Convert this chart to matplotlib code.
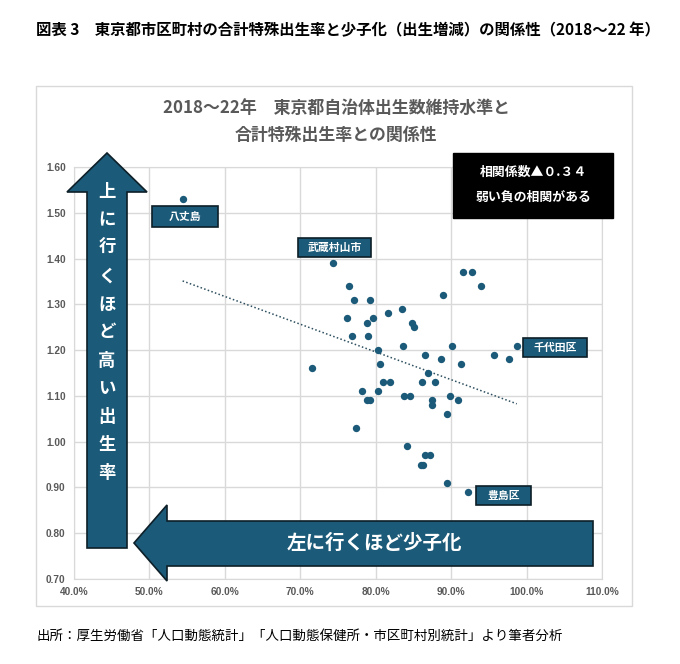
import matplotlib.pyplot as plt
import numpy as np
from matplotlib.patches import Polygon, Rectangle

plt.rcParams['font.family'] = ['Noto Sans CJK JP', 'DejaVu Sans']

# birth-count maintenance level (%) vs total fertility rate
birth_level = [54.4, 74.3, 76.5, 77.1, 79.3, 91.6, 92.7, 94.0, 88.9,
               76.2, 78.9, 79.7, 81.6, 83.5, 84.8, 85.1, 76.9, 79.0,
               80.3, 83.6, 90.1, 98.7, 95.7, 97.7, 86.5, 88.7, 71.5,
               80.6, 91.3, 86.9, 80.9, 81.9, 86.2, 87.9, 78.2, 80.3,
               78.9, 79.3, 83.8, 84.5, 87.5, 87.5, 89.9, 90.9, 89.4,
               77.4, 84.2, 86.5, 87.2, 86.0, 86.3, 89.5, 92.2]
fertility = [1.53, 1.39, 1.34, 1.31, 1.31, 1.37, 1.37, 1.34, 1.32,
             1.27, 1.26, 1.27, 1.28, 1.29, 1.26, 1.25, 1.23, 1.23,
             1.20, 1.21, 1.21, 1.21, 1.19, 1.18, 1.19, 1.18, 1.16,
             1.17, 1.17, 1.15, 1.13, 1.13, 1.13, 1.13, 1.11, 1.11,
             1.09, 1.09, 1.10, 1.10, 1.09, 1.08, 1.10, 1.09, 1.06,
             1.03, 0.99, 0.97, 0.97, 0.95, 0.95, 0.91, 0.89]

labels = ["八丈島", "武蔵村山市", "千代田区", "豊島区"]
x_ticks = [40, 50, 60, 70, 80, 90, 100, 110]
y_ticks = [0.7, 0.8, 0.9, 1.0, 1.1, 1.2, 1.3, 1.4, 1.5, 1.6]

TEAL = "#1b5a78"
W, H = 680, 664


def fx(px):
    return px / W


def fy(py):
    return 1 - py / H


fig = plt.figure(figsize=(W / 100, H / 100), dpi=100)
ax = fig.add_axes([fx(74), fy(579), (602 - 74) / W, (579 - 167) / H])

ax.scatter(birth_level, fertility, s=28, color=TEAL, zorder=3, linewidths=0)

# linear trend
coef = np.polyfit(birth_level, fertility, 1)
xs = np.array([min(birth_level), max(birth_level)])
ax.plot(xs, np.polyval(coef, xs), linestyle=(0, (1, 1.5)), color="#2d4f5f",
        linewidth=1.1, zorder=2)

ax.set_xlim(40, 110)
ax.set_ylim(0.7, 1.6)
ax.set_xticks(x_ticks)
ax.set_xticklabels([f"{v:.1f}%" for v in x_ticks])
ax.set_yticks(y_ticks)
ax.set_yticklabels([f"{v:.2f}" for v in y_ticks])
ax.tick_params(length=0, labelsize=7.3, colors="#595959", pad=6)
for lab in ax.get_xticklabels() + ax.get_yticklabels():
    lab.set_fontweight("bold")
    lab.set_family(["Liberation Sans", "DejaVu Sans"])
ax.grid(True, color="#d9d9d9", linewidth=1)
ax.set_axisbelow(True)
for sp in ax.spines.values():
    sp.set_color("#d9d9d9")

# outer frame
fig.patches.append(Rectangle((fx(36), fy(606)), (632 - 36) / W, (606 - 86) / H,
                             transform=fig.transFigure, fill=False,
                             edgecolor="#d9d9d9", linewidth=1))

fig.text(fx(36), fy(30), "図表 3　東京都市区町村の合計特殊出生率と少子化（出生増減）の関係性（2018～22 年）",
         fontsize=11.1, fontweight="bold", va="center", ha="left")
fig.text(fx(336), fy(108), "2018～22年　東京都自治体出生数維持水準と",
         fontsize=12.2, fontweight="bold", color="#595959", ha="center", va="center")
fig.text(fx(336), fy(135), "合計特殊出生率との関係性",
         fontsize=12.2, fontweight="bold", color="#595959", ha="center", va="center")

# correlation box
fig.patches.append(Rectangle((fx(453), fy(218)), (613 - 453) / W, (218 - 153) / H,
                             transform=fig.transFigure, facecolor="black",
                             edgecolor="black", zorder=5))
fig.text(fx(533), fy(172), "相関係数▲０.３４", color="white", fontsize=9.3,
         fontweight="bold", ha="center", va="center", zorder=6)
fig.text(fx(533), fy(197), "弱い負の相関がある", color="white", fontsize=9.3,
         fontweight="bold", ha="center", va="center", zorder=6)

# label boxes (pixel bounds)
boxes = [(152, 206, 218, 227), (298, 238, 371, 257), (523, 338, 587, 357), (476, 486, 531, 505)]
for (x0, y0, x1, y1), name in zip(boxes, labels):
    fig.patches.append(Rectangle((fx(x0), fy(y1)), (x1 - x0) / W, (y1 - y0) / H,
                                 transform=fig.transFigure, facecolor=TEAL,
                                 edgecolor="#0d1f28", linewidth=1.2, zorder=5))
    fig.text(fx((x0 + x1) / 2), fy((y0 + y1) / 2), name, color="white", fontsize=7.8,
             fontweight="bold", ha="center", va="center", zorder=6)

# up arrow
up = [(87, 548), (127, 548), (127, 192), (147, 192), (107, 153), (67, 192), (87, 192)]
fig.patches.append(Polygon([(fx(a), fy(b)) for a, b in up], closed=True,
                           transform=fig.transFigure, facecolor=TEAL,
                           edgecolor="#0d1f28", linewidth=1.2, zorder=4))
for i, ch in enumerate("上に行くほど高い出生率"):
    fig.text(fx(107), fy(192 + i * 28.1), ch, color="white", fontsize=12.5,
             fontweight="bold", ha="center", va="center", zorder=6)

# left arrow
left = [(593, 521), (167, 521), (167, 505), (134, 543), (167, 581), (167, 566), (593, 566)]
fig.patches.append(Polygon([(fx(a), fy(b)) for a, b in left], closed=True,
                           transform=fig.transFigure, facecolor=TEAL,
                           edgecolor="#0d1f28", linewidth=1.2, zorder=4))
fig.text(fx(374), fy(543), "左に行くほど少子化", color="white", fontsize=14,
         fontweight="bold", ha="center", va="center", zorder=6)

fig.text(fx(36), fy(636), "出所：厚生労働省「人口動態統計」「人口動態保健所・市区町村別統計」より筆者分析",
         fontsize=9.7, ha="left", va="center")

fig.savefig("out.png", dpi=100)
